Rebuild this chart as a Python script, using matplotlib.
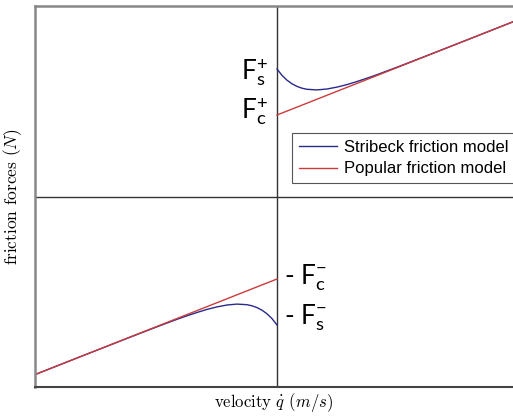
import matplotlib
matplotlib.use("Agg")
import matplotlib.pyplot as plt

# velocity (arbitrary units) and friction force values
stribeck_v_pos = [0.0, 0.05, 0.10, 0.15, 0.20, 0.25, 0.30, 0.40, 0.50, 0.60,
                  0.70, 0.80, 0.90, 1.00, 1.20, 1.50, 2.00, 2.36]
stribeck_f_pos = [1.28, 1.216, 1.168, 1.132, 1.106, 1.088, 1.077, 1.071, 1.080, 1.099,
                  1.124, 1.155, 1.188, 1.223, 1.298, 1.414, 1.610, 1.752]
stribeck_v_neg = [-2.42, -2.00, -1.50, -1.20, -1.00, -0.90, -0.80, -0.70, -0.60, -0.50,
                  -0.40, -0.30, -0.25, -0.20, -0.15, -0.10, -0.05, 0.0]
stribeck_f_neg = [-1.776, -1.610, -1.414, -1.298, -1.223, -1.188, -1.155, -1.124, -1.099, -1.080,
                  -1.071, -1.077, -1.088, -1.106, -1.132, -1.168, -1.216, -1.28]

popular_v_pos = [0.0, 2.36]
popular_f_pos = [0.82, 1.752]
popular_v_neg = [-2.42, 0.0]
popular_f_neg = [-1.776, -0.82]

Fs = 1.28
Fc = 0.82

plt.rcParams['mathtext.fontset'] = 'custom'
plt.rcParams['mathtext.rm'] = 'Lato'
plt.rcParams['mathtext.it'] = 'Lato:italic'
plt.rcParams['mathtext.sf'] = 'Lato'

fig = plt.figure(figsize=(5.13, 4.16), dpi=100)
ax = fig.add_axes([35 / 513, 29 / 416, 478 / 513, 381 / 416])

blue = '#2a2a8c'
red = '#cc3b3b'

ax.plot(stribeck_v_pos, stribeck_f_pos, color=blue, lw=1.0, label='Stribeck friction model')
ax.plot(stribeck_v_neg, stribeck_f_neg, color=blue, lw=1.0)
ax.plot(popular_v_pos, popular_f_pos, color=red, lw=1.0, label='Popular friction model')
ax.plot(popular_v_neg, popular_f_neg, color=red, lw=1.0)

ax.axhline(0, color='#333333', lw=1.0, zorder=0)
ax.axvline(0, color='#333333', lw=1.0, zorder=0)

ax.set_xlim(-2.42, 2.36)
ax.set_ylim(-1.90, 1.91)
ax.set_xticks([])
ax.set_yticks([])
ax.spines['right'].set_visible(False)
for s in ['left', 'top']:
    ax.spines[s].set_color('#888888')
    ax.spines[s].set_linewidth(1.8)
ax.spines['bottom'].set_color('#444444')
ax.spines['bottom'].set_linewidth(1.5)

# labels for the static / coulomb levels
lab = dict(fontsize=19, fontfamily='Lato', math_fontfamily='custom')
ax.text(-0.09, Fs - 0.04, r'$\mathrm{F}_\mathrm{s}^{+}$', ha='right', va='center', **lab)
ax.text(-0.09, Fc + 0.03, r'$\mathrm{F}_\mathrm{c}^{+}$', ha='right', va='center', **lab)
ax.text(0.07, -Fc + 0.01, r'- $\mathrm{F}_\mathrm{c}^{-}$', ha='left', va='center', **lab)
ax.text(0.07, -Fs + 0.07, r'- $\mathrm{F}_\mathrm{s}^{-}$', ha='left', va='center', **lab)

ax.set_xlabel(r'velocity $\dot{q}$ $(m/s)$', fontfamily='cmr10', fontsize=12,
              math_fontfamily='cm', labelpad=3)
ax.set_ylabel(r'friction forces $(N)$', fontfamily='cmr10', fontsize=12.5,
              math_fontfamily='cm', labelpad=8)

leg = ax.legend(loc='upper left', bbox_to_anchor=(292 / 513, 1 - 133 / 416),
                bbox_transform=fig.transFigure, fancybox=False, framealpha=1,
                edgecolor='#555555', prop={'family': 'Liberation Sans', 'size': 12},
                handlelength=2.3, handletextpad=0.4, borderpad=0.4, labelspacing=0.4,
                borderaxespad=0)
leg.get_frame().set_linewidth(0.8)

fig.savefig('out.png', dpi=100)
